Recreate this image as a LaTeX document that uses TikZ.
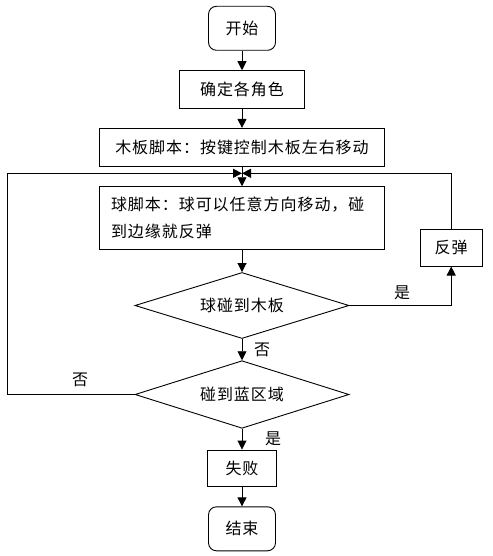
\documentclass[tikz,border=0pt]{standalone}
\usepackage{fontspec}
\setmainfont{Noto Sans CJK SC}[LetterSpace=6]
\usetikzlibrary{shapes.geometric,arrows.meta}
\begin{document}
\begin{tikzpicture}[x=1pt,y=-1pt,
  font=\fontsize{16}{27}\selectfont,
  every node/.style={inner sep=0pt},
  line/.style={draw=black,line width=0.9pt},
  arr/.style={line,-{Triangle[length=9pt,width=9pt]}},
  procbox/.style={line,rectangle,minimum width=#1},
  termbox/.style={line,rectangle,rounded corners=8pt,minimum width=67pt,minimum height=44pt},
  decide/.style={line,diamond,aspect=3.2,minimum width=214pt,minimum height=66pt},
  lbl/.style={inner sep=0pt}
]
\useasboundingbox (0,0) rectangle (492,556);

\node[termbox] (start) at (242,28.3) {开始};
\node[procbox=124.7pt,minimum height=37.6pt] (role) at (242,89.5) {确定各角色};
\node[procbox=285pt,minimum height=37.7pt] (board) at (242,147.2) {木板脚本：按键控制木板左右移动};
\node[procbox=285pt,minimum height=62.6pt,text width=262pt,align=left] (ball) at (242,218)
  {球脚本：球可以任意方向移动，碰\\到边缘就反弹};
\node[decide] (d1) at (242,305.5) {球碰到木板};
\node[decide,minimum height=67.6pt,aspect=3.15] (d2) at (242,394.5) {碰到蓝区域};
\node[procbox=62.3pt,minimum height=36.7pt] (bounce) at (451.2,247.7) {反弹};
\node[procbox=68.4pt,minimum height=36pt] (fail) at (242,468) {失败};
\node[termbox] (end) at (242,528.8) {结束};

\coordinate (j) at (242,173.3);
\coordinate (lc) at (7.3,173.3);

\draw[arr] (start) -- (role);
\draw[arr] (role) -- (board);
\draw[arr] (board) -- (ball);
\draw[arr] (ball) -- (d1);
\draw[arr] (d1) -- (d2);
\draw[arr] (d2) -- (fail);
\draw[arr] (fail) -- (end);
\draw[arr] (d1.east) -| (bounce.south);
\draw[arr] (bounce.north) |- (j);
\draw[arr] (d2.west) -| (lc) -- (j);

\node[lbl] (yes1) at (402,293) {是};
\node[lbl] (no1) at (262,350) {否};
\node[lbl] (no2) at (80,380) {否};
\node[lbl] (yes2) at (273,439) {是};
\end{tikzpicture}
\end{document}
